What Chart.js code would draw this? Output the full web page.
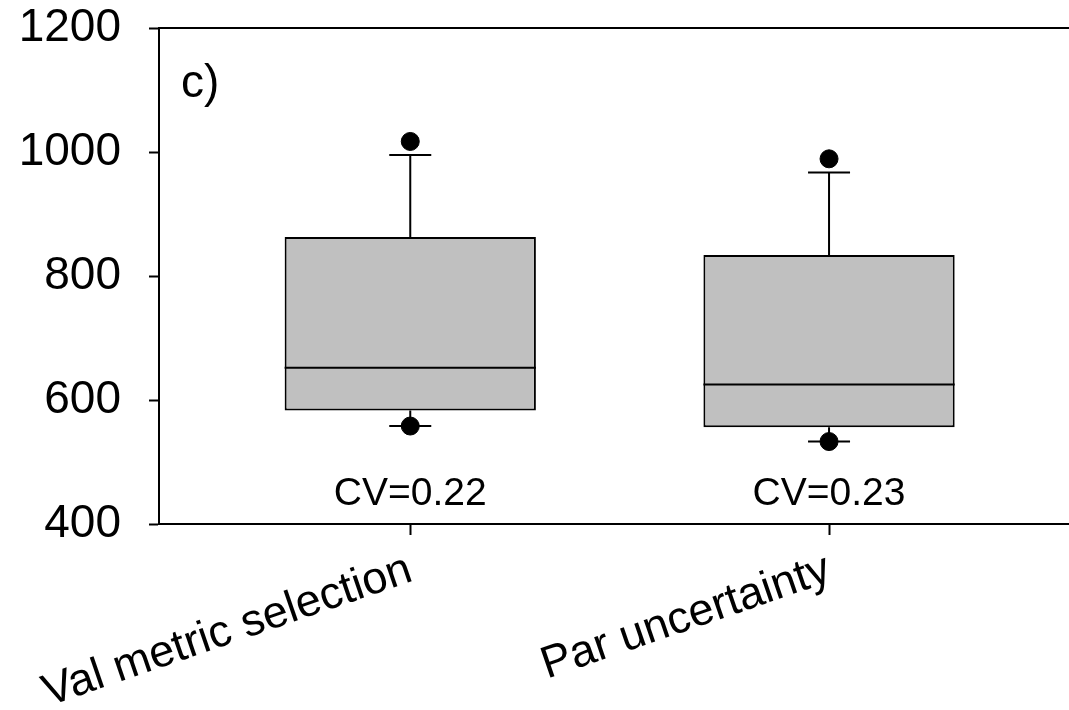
<!DOCTYPE html>
<html>
<head>
<meta charset="utf-8">
<script src="https://cdn.jsdelivr.net/npm/chart.js@4"></script>
<style>
  body { margin: 0; background: #fff; overflow: hidden; }
  #wrap { width: 1069px; height: 710px; }
</style>
</head>
<body>
<div id="wrap"><canvas id="myChart"></canvas></div>
<script>
const categories = ['Val metric selection', 'Par uncertainty'];
const positions = [1, 2];
const q1 = [583, 556];
const median = [652, 625];
const q3 = [863, 834];
const whiskerLow = [558, 533];
const whiskerHigh = [995, 967];
const outliers = [[558, 1017], [533, 989]];
const cvLabels = ['CV=0.22', 'CV=0.23'];

const FONT = '"Liberation Sans", Arial, sans-serif';

const boxData = positions.map((p, i) => ({ x: p, y: [q1[i], q3[i]] }));
const outlierData = [];
positions.forEach((p, i) => outliers[i].forEach(v => outlierData.push({ x: p, y: v })));

const boxExtras = {
  id: 'boxExtras',
  beforeDatasetsDraw(chart) {
    const { ctx, scales: { x, y }, chartArea } = chart;
    ctx.save();
    ctx.strokeStyle = '#000';
    ctx.lineWidth = 2;
    // frame top
    ctx.beginPath();
    ctx.moveTo(chartArea.left, chartArea.top);
    ctx.lineTo(chartArea.right, chartArea.top);
    ctx.stroke();
    positions.forEach((p, i) => {
      const px = x.getPixelForValue(p);
      ctx.beginPath();
      ctx.moveTo(px, y.getPixelForValue(q3[i]));
      ctx.lineTo(px, y.getPixelForValue(whiskerHigh[i]));
      ctx.moveTo(px, y.getPixelForValue(q1[i]));
      ctx.lineTo(px, y.getPixelForValue(whiskerLow[i]));
      // caps
      const hi = y.getPixelForValue(whiskerHigh[i]);
      const lo = y.getPixelForValue(whiskerLow[i]);
      ctx.moveTo(px - 21, hi); ctx.lineTo(px + 21, hi);
      ctx.moveTo(px - 21, lo); ctx.lineTo(px + 21, lo);
      ctx.stroke();
    });
    ctx.restore();
  },
  afterDatasetsDraw(chart) {
    const { ctx, scales: { x, y }, chartArea } = chart;
    const half = chart.getDatasetMeta(0).data[0].width / 2;
    ctx.save();
    ctx.strokeStyle = '#000';
    ctx.lineWidth = 2;
    positions.forEach((p, i) => {
      const px = x.getPixelForValue(p);
      const my = y.getPixelForValue(median[i]);
      ctx.beginPath();
      ctx.moveTo(px - half, my);
      ctx.lineTo(px + half, my);
      ctx.stroke();
    });
    ctx.fillStyle = '#000';
    ctx.font = '39px ' + FONT;
    ctx.textAlign = 'center';
    ctx.textBaseline = 'alphabetic';
    positions.forEach((p, i) => {
      ctx.fillText(cvLabels[i], x.getPixelForValue(p), y.getPixelForValue(431));
    });
    ctx.font = '46px ' + FONT;
    ctx.textAlign = 'left';
    ctx.fillText('c)', chartArea.left + 22, chartArea.top + 69);
    ctx.restore();
  }
};

const ctx = document.querySelector('#myChart');

new Chart(ctx, {
  type: 'bar',
  data: {
    datasets: [{
      type: 'bar',
      data: boxData,
      backgroundColor: '#c0c0c0',
      borderColor: '#000',
      borderWidth: 2,
      borderSkipped: false,
      categoryPercentage: 1,
      barPercentage: 0.6
    }, {
      type: 'scatter',
      data: outlierData,
      backgroundColor: '#000',
      borderColor: '#000',
      pointRadius: 9,
      pointHoverRadius: 9
    }]
  },
  options: {
    responsive: true,
    maintainAspectRatio: false,
    animation: false,
    layout: { autoPadding: false, padding: { top: 28, right: 0, left: 0, bottom: 0 } },
    plugins: {
      legend: { display: false },
      tooltip: { enabled: false }
    },
    scales: {
      x: {
        type: 'linear',
        min: 0.4,
        max: 2.573,
        offset: false,
        grid: { display: true, offset: false, drawOnChartArea: false, drawTicks: true, tickLength: 11, tickWidth: 2, tickColor: '#000' },
        border: { display: true, color: '#000', width: 2 },
        afterBuildTicks(scale) {
          scale.ticks = positions.map(v => ({ value: v }));
        },
        afterFit(scale) {
          scale.height = 186;
          scale.paddingLeft = 0;
          scale.paddingRight = 0;
        },
        ticks: {
          autoSkip: false,
          minRotation: 19,
          maxRotation: 19,
          padding: 8,
          color: '#000',
          font: { family: FONT, size: 45 },
          callback: (v) => categories[positions.indexOf(v)] || ''
        }
      },
      y: {
        min: 400,
        max: 1200,
        grid: { display: true, drawOnChartArea: false, drawTicks: true, tickLength: 10, tickWidth: 2, tickColor: '#000' },
        border: { display: true, color: '#000', width: 2 },
        afterFit(scale) {
          scale.width = 159;
          scale.paddingTop = 0;
          scale.paddingBottom = 0;
        },
        ticks: {
          stepSize: 200,
          padding: 28,
          color: '#000',
          font: { family: FONT, size: 46 },
          callback: (v) => String(v)
        }
      }
    }
  },
  plugins: [boxExtras]
});
</script>
</body>
</html>
